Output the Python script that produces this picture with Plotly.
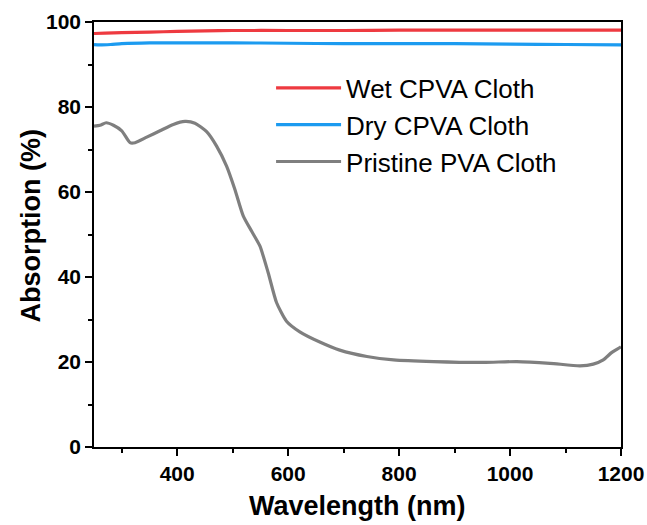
import plotly.graph_objects as go

# ---- data ----
wet_x = [250, 270, 300, 350, 400, 450, 500, 600, 700, 800, 900, 1000, 1100, 1200]
wet_y = [97.3, 97.4, 97.5, 97.6, 97.8, 97.9, 98.0, 98.0, 98.0, 98.1, 98.1, 98.1, 98.1, 98.1]

dry_x = [250, 260, 280, 300, 350, 400, 500, 600, 700, 800, 900, 1000, 1100, 1200]
dry_y = [94.7, 94.6, 94.7, 94.9, 95.1, 95.1, 95.1, 95.0, 94.9, 94.9, 94.9, 94.8, 94.7, 94.6]

pva_x = [250, 261, 272, 285, 300, 315, 324, 345, 369, 393, 414, 432, 453, 471, 489,
         504, 519, 534, 549, 564, 579, 597, 621, 657, 693, 742, 790, 862, 952, 1012,
         1072, 1126, 1150, 1168, 1183, 1198, 1200]
pva_y = [75.5, 75.7, 76.3, 75.7, 74.4, 71.6, 71.6, 72.9, 74.4, 75.9, 76.6, 76.2, 74.2, 70.8, 66.1,
         60.6, 54.4, 50.8, 47.3, 41.0, 34.0, 29.6, 27.1, 24.7, 22.8, 21.3, 20.5, 20.1, 19.9, 20.1,
         19.7, 19.1, 19.5, 20.5, 22.2, 23.4, 23.6]

names = ["Wet CPVA Cloth", "Dry CPVA Cloth", "Pristine PVA Cloth"]
colors = ["#EE3A40", "#1C9BF0", "#7F7F7F"]

x_ticks = [400, 600, 800, 1000, 1200]
y_ticks = [0, 20, 40, 60, 80, 100]

FONT = "Liberation Sans, Arial, sans-serif"

fig = go.Figure()
for xs, ys, nm, c in zip([wet_x, dry_x, pva_x], [wet_y, dry_y, pva_y], names, colors):
    fig.add_trace(go.Scatter(x=xs, y=ys, mode="lines", name=nm,
                             line=dict(color=c, width=3.2, shape="spline", smoothing=0.6)))

axis_common = dict(
    showline=True, linecolor="black", linewidth=1.5, mirror=True,
    ticks="outside", ticklen=7, tickwidth=1.5, tickcolor="black",
    showgrid=False, zeroline=False, automargin=False,
    tickfont=dict(family=FONT, size=21, color="black", weight="bold"),
)

fig.update_xaxes(range=[250, 1200], tickvals=x_ticks,
                 minor=dict(ticks="outside", ticklen=4, tickwidth=1.5, tickcolor="black",
                            tickvals=[300, 500, 700, 900, 1100]),
                 **axis_common)
fig.update_yaxes(range=[0, 100], tickvals=y_ticks,
                 minor=dict(ticks="outside", ticklen=4, tickwidth=1.5, tickcolor="black",
                            tickvals=[10, 30, 50, 70, 90]),
                 **axis_common)

fig.add_annotation(text="Wavelength (nm)", xref="paper", yref="paper", x=0.5, y=0,
                   xanchor="center", yanchor="middle", yshift=-59, showarrow=False,
                   font=dict(family=FONT, size=27, color="black", weight="bold"))
fig.add_annotation(text="Absorption (%)", xref="paper", yref="paper", x=0, y=0.519,
                   xanchor="center", yanchor="middle", xshift=-63, textangle=-90,
                   showarrow=False,
                   font=dict(family=FONT, size=27, color="black", weight="bold"))

fig.update_layout(
    width=647, height=525,
    margin=dict(l=94, r=26, t=22, b=78, autoexpand=False),
    paper_bgcolor="white", plot_bgcolor="white",
    legend=dict(x=0.336, y=0.90, xanchor="left", yanchor="top",
                bgcolor="rgba(0,0,0,0)", itemwidth=65, tracegroupgap=0,
                font=dict(family=FONT, size=26, color="black")),
    showlegend=True,
)

fig.write_html("out.html")
